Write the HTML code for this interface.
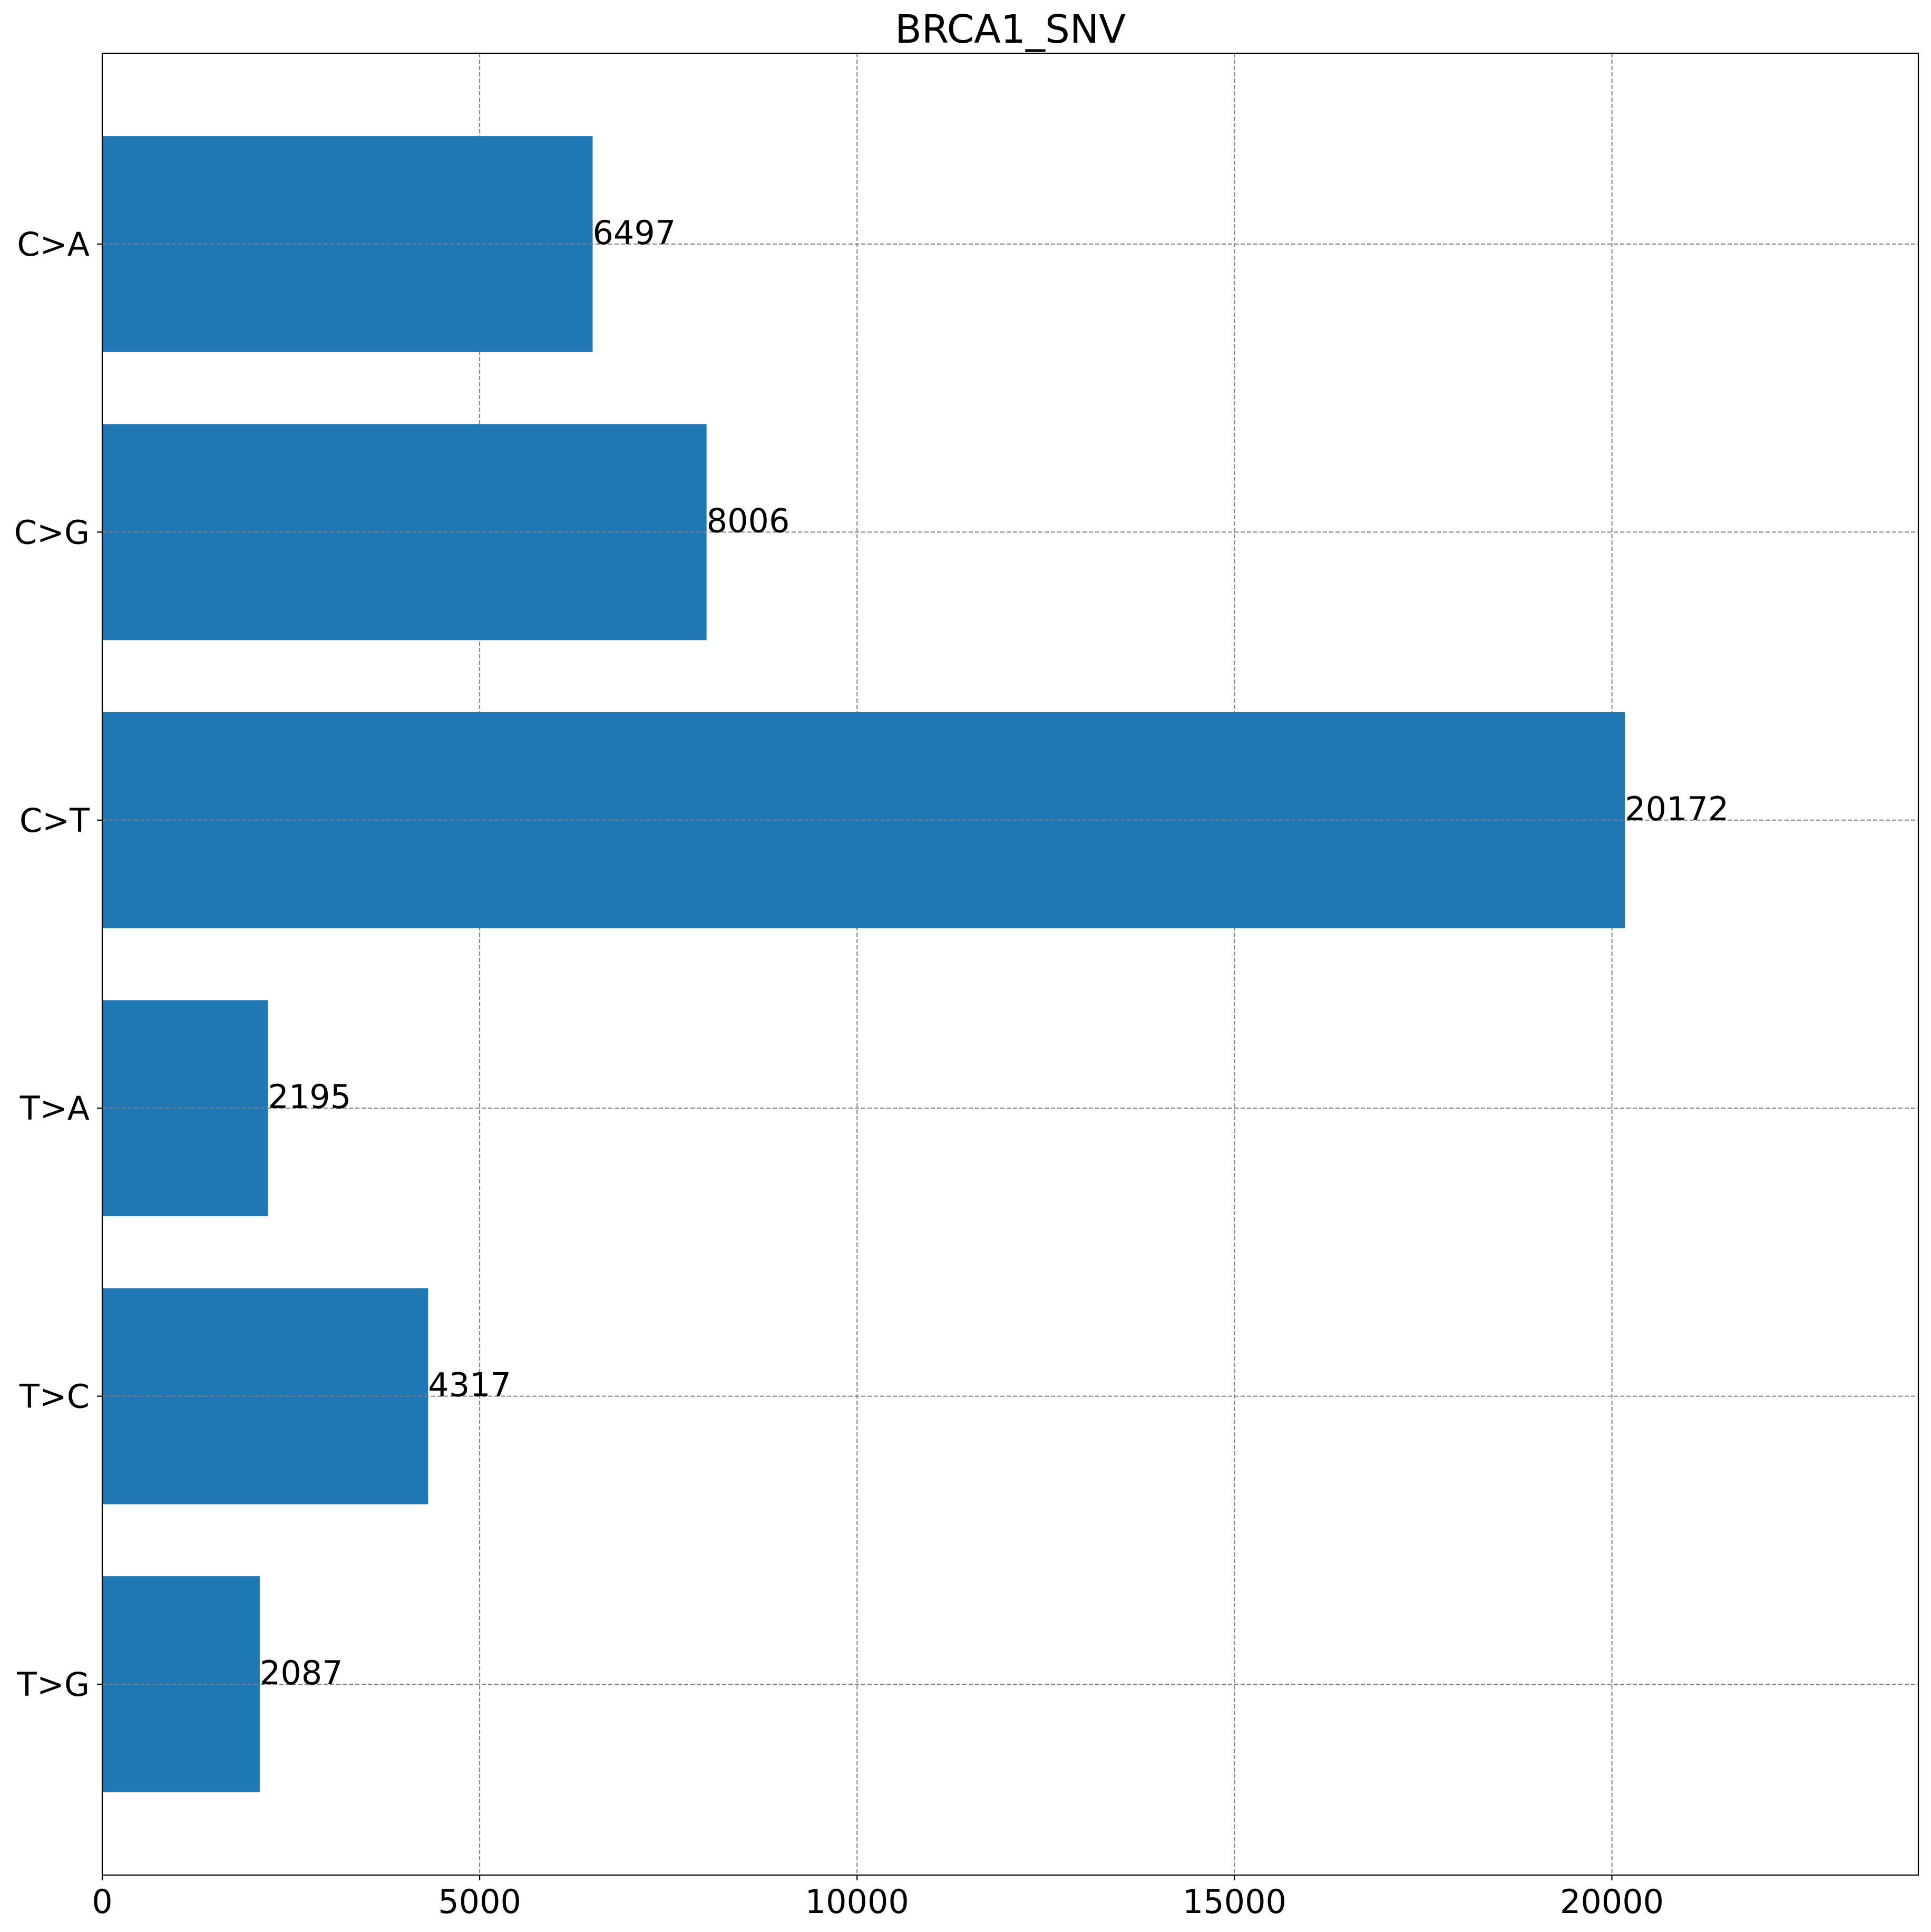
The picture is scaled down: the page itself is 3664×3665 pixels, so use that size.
<!DOCTYPE html>
<html><head><meta charset="utf-8">
<style>
html,body{margin:0;padding:0;background:#fff;}
svg{display:block;}
text{font-family:"DejaVu Sans","Liberation Sans",sans-serif;fill:#000;}
</style></head>
<body>
<svg id="chart" width="3664" height="3665" viewBox="0 0 3664 3665" xmlns="http://www.w3.org/2000/svg">
<rect x="0" y="0" width="3664" height="3665" fill="#fff"/>
<text x="1917" y="81" font-size="74" text-anchor="middle">BRCA1_SNV</text>
<g id="grid"></g>
<g id="bars"></g>
<g id="labels"></g>
<rect x="194" y="101" width="3446" height="3456" fill="none" stroke="#000" stroke-width="2.2"/>
<g id="xticks"></g>
<g id="yticks"></g>
</svg>
<script>
const categories = ["C>A","C>G","C>T","T>A","T>C","T>G"];
const values = [6497, 8006, 20172, 2195, 4317, 2087];
const xTicks = [0, 5000, 10000, 15000, 20000];
const xLimit = 24060;

const L=194, R=3640, T=101, B=3557;
const xMax = xLimit;
const yMin=-0.6625, yMax=categories.length-1+0.6625;
function xs(v){return L+(v/xMax)*(R-L);}
function ys(i){return T+((i-yMin)/(yMax-yMin))*(B-T);}
const NS="http://www.w3.org/2000/svg";
function mk(tag,attrs,parent){const e=document.createElementNS(NS,tag);for(const k in attrs)e.setAttribute(k,attrs[k]);parent.appendChild(e);return e;}
const grid=document.getElementById('grid'),bars=document.getElementById('bars'),labels=document.getElementById('labels'),xt=document.getElementById('xticks'),yt=document.getElementById('yticks');
xTicks.forEach(v=>{
  const x=xs(v);
  const g=mk('line',{x1:x,x2:x,y1:T,y2:B,stroke:'#808080','stroke-width':2,'stroke-dasharray':'8,4'},grid);
  
  
  const t=mk('line',{x1:x,x2:x,y1:B,y2:B+10,stroke:'#000','stroke-width':2.2},xt);
  
  
  const tx=mk('text',{x:x,y:B+72,'font-size':62,'text-anchor':'middle'},xt);
  tx.textContent=String(v);
  
  
});
const bh=0.75*(B-T)/(yMax-yMin);
categories.forEach((c,i)=>{
  const y=ys(i);
  const r=mk('rect',{x:xs(0),y:y-bh/2,width:xs(values[i])-xs(0),height:bh,fill:'#1f77b4'},bars);
  
  
  const g=mk('line',{x1:L,x2:R,y1:y,y2:y,stroke:'#808080','stroke-width':2,'stroke-dasharray':'8,4'},labels);
  
  
  const lb=mk('text',{x:xs(values[i]),y:y,'font-size':62},labels);
  lb.textContent=String(values[i]);
  
  
  const t=mk('line',{x1:L-10,x2:L,y1:y,y2:y,stroke:'#000','stroke-width':2.2},yt);
  
  
  const tx=mk('text',{x:L-24,y:y+22,'font-size':62,'text-anchor':'end'},yt);
  tx.textContent=c;
  
  
});
</script>
</body></html>
